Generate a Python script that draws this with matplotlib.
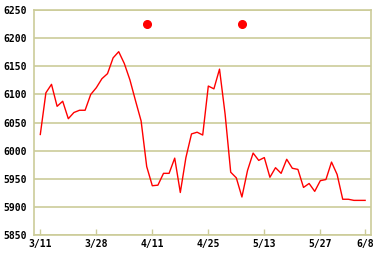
import matplotlib
matplotlib.use("Agg")
import matplotlib.pyplot as plt

values = [6029, 6103, 6118, 6079, 6088, 6057, 6068, 6072, 6072, 6100,
          6112, 6128, 6137, 6165, 6176, 6155, 6126, 6089, 6053, 5972,
          5938, 5939, 5960, 5960, 5987, 5926, 5988, 6030, 6033, 6028,
          6115, 6110, 6145, 6065, 5962, 5952, 5918, 5965, 5996, 5983,
          5988, 5953, 5970, 5960, 5985, 5969, 5967, 5935, 5942, 5928,
          5947, 5949, 5980, 5958, 5914, 5914, 5912, 5912, 5912]
tick_idx = [0, 10, 20, 30, 40, 50, 58]
tick_labels = ["3/11", "3/28", "4/11", "4/25", "5/13", "5/27", "6/8"]
marker_idx = [19, 36]
marker_vals = [6225, 6225]
y_ticks = [5850, 5900, 5950, 6000, 6050, 6100, 6150, 6200, 6250]

grid_c = "#cccc99"
fig = plt.figure(figsize=(3.82, 2.58), dpi=100)
ax = fig.add_axes([34/382, 1 - 235.3/258, (371-34)/382, (235.3-10)/258])
ax.plot(range(len(values)), values, color="#ff0000", lw=1.0)
ax.plot(marker_idx, marker_vals, "o", color="#ff0000", ms=5.5, mec="#ff0000")
ax.set_xlim(-1.125, 59.05)
ax.set_ylim(5850, 6250)
ax.set_yticks(y_ticks)
ax.set_yticklabels([str(v) for v in y_ticks])
ax.set_xticks(tick_idx)
ax.set_xticklabels(tick_labels)
ax.yaxis.grid(True, color=grid_c, lw=1.2)
ax.set_axisbelow(True)
for s in ax.spines.values():
    s.set_color(grid_c)
    s.set_linewidth(1.2)
ax.tick_params(axis="y", length=0, pad=5)
ax.tick_params(axis="x", direction="in", length=4, color=grid_c, width=1, pad=3)
for lbl in ax.get_xticklabels() + ax.get_yticklabels():
    lbl.set_fontfamily("DejaVu Sans Mono")
    lbl.set_fontweight("bold")
    lbl.set_fontsize(7)
fig.savefig("out.png", dpi=100, facecolor="white")
